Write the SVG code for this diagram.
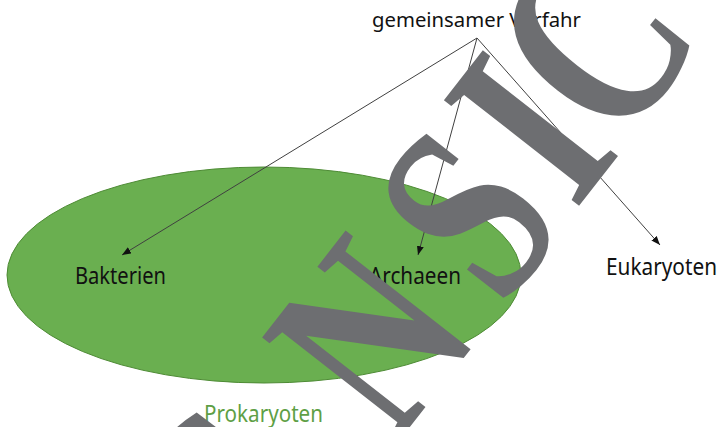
<svg xmlns="http://www.w3.org/2000/svg" width="719" height="427" viewBox="0 0 719 427">
<defs>
<style>
.lbl{font-family:"Noto Sans","Open Sans","Liberation Sans",sans-serif;font-size:23px;fill:#111111}
.top{font-size:19px}
.grp{fill:#5E9F45}
.conn{stroke:#404040;stroke-width:1;fill:none;marker-end:url(#ah)}
.wm{font-family:"Liberation Serif","DejaVu Serif",serif;font-weight:bold;font-size:262px;fill:#6D6E71}
</style>
<marker id="ah" markerUnits="userSpaceOnUse" markerWidth="10" markerHeight="8" refX="9" refY="3.5" orient="auto">
<path d="M0,0 L9,3.5 L0,7 z" fill="#111111"/>
</marker>
</defs>
<rect width="719" height="427" fill="#ffffff"/>
<g id="prokaryoten">
<ellipse cx="264" cy="275" rx="257" ry="108" fill="#6AAF50" stroke="#4E8B35" stroke-width="1"/>
<text class="lbl grp" x="204" y="421.5" textLength="119" lengthAdjust="spacingAndGlyphs">Prokaryoten</text>
</g>
<g id="vorfahr">
<text class="lbl top" x="372" y="27.3" textLength="209" lengthAdjust="spacingAndGlyphs">gemeinsamer Vorfahr</text>
</g>
<g id="bakterien">
<text class="lbl" x="75" y="283.5" textLength="91" lengthAdjust="spacingAndGlyphs">Bakterien</text>
</g>
<g id="archaeen">
<text class="lbl" x="369" y="283.5" textLength="92" lengthAdjust="spacingAndGlyphs">Archaeen</text>
</g>
<g id="eukaryoten">
<text class="lbl" x="606" y="275" textLength="111" lengthAdjust="spacingAndGlyphs">Eukaryoten</text>
</g>
<g id="connectors">
<line class="conn" x1="477" y1="38" x2="122" y2="255"/>
<line class="conn" x1="477" y1="38" x2="418" y2="255"/>
<line class="conn" x1="477" y1="38" x2="660" y2="245"/>
</g>
<g id="watermark">
<text class="wm" transform="translate(395 446) rotate(-52) scale(0.75 1)">N</text>
<text class="wm" transform="translate(502 310) rotate(-52) scale(0.75 1)">S</text>
<text class="wm" transform="translate(575 211) rotate(-52) scale(0.75 1)">I</text>
<text class="wm" transform="translate(618 150) rotate(-52) scale(0.75 1)">C</text>
<text class="wm" transform="translate(250 612) rotate(-52) scale(0.75 1)">C</text>
</g>
</svg>
